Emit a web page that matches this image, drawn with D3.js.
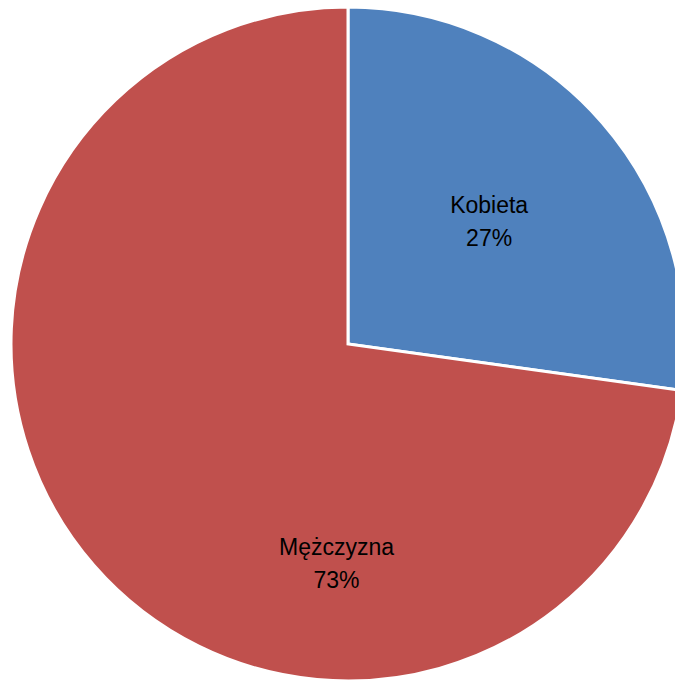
<!DOCTYPE html>
<html>
<head>
<meta charset="utf-8">
<script src="https://cdn.jsdelivr.net/npm/d3@7"></script>
<style>
  body { margin: 0; background: #fff; }
  svg { display: block; }
</style>
</head>
<body>
<div id="chart"></div>
<script>
// Dane wykresu
const categories = ["Kobieta", "Mężczyzna"];
const values = [27.2, 72.8];
const colors = ["#4f81bd", "#c0504d"];

// Rozmiary
const width = 675,
  height = 682;
const cx = 348,
  cy = 344,
  radius = 337;

// Pozycje etykiet (kąt w stopniach od góry, promień w px) - jak w Excelu
const labelAngleDeg = [49, 183];
const labelRadius = [187, 219];

const svg = d3
  .select("#chart")
  .append("svg")
  .attr("width", width)
  .attr("height", height)
  .append("g")
  .attr("transform", `translate(${cx}, ${cy})`);

const pieData = categories.map((c, i) => ({ label: c, value: values[i], color: colors[i] }));
const total = d3.sum(values);

const pie = d3.pie().sort(null).value((d) => d.value);
const data_ready = pie(pieData);

const arcGenerator = d3.arc().innerRadius(0).outerRadius(radius);

svg
  .selectAll("path")
  .data(data_ready)
  .enter()
  .append("path")
  .attr("d", arcGenerator)
  .attr("fill", (d) => d.data.color)
  .attr("stroke", "white")
  .style("stroke-width", "3px")
  .style("stroke-linejoin", "miter");

// Etykiety
const labels = svg
  .selectAll("text")
  .data(data_ready)
  .enter()
  .append("text")
  .attr("transform", (d, i) => {
    const a = (labelAngleDeg[i] * Math.PI) / 180;
    const r = labelRadius[i];
    return `translate(${r * Math.sin(a)},${-r * Math.cos(a)})`;
  })
  .style("text-anchor", "middle")
  .style("font-family", "'Liberation Sans', Arial, sans-serif")
  .style("font-size", "23px")
  .style("fill", "#000");

labels
  .append("tspan")
  .attr("x", 0)
  .attr("y", -8)
  .text((d) => d.data.label);

labels
  .append("tspan")
  .attr("x", 0)
  .attr("y", 25)
  .text((d) => `${Math.round((d.data.value / total) * 100)}%`);
</script>
</body>
</html>
